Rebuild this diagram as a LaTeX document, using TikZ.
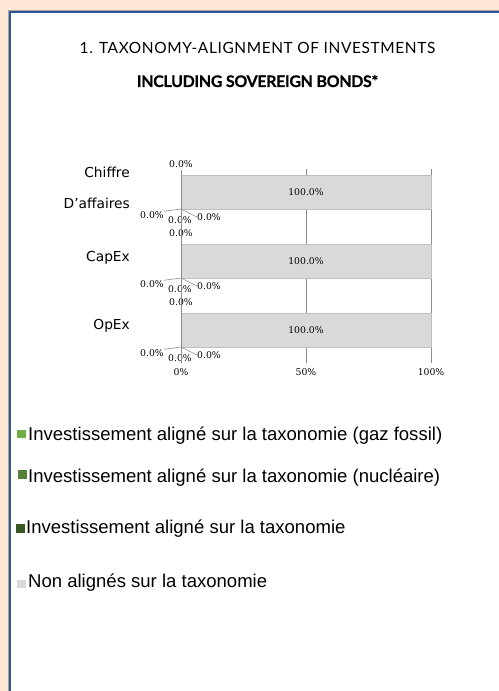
\documentclass[tikz,border=0pt]{standalone}
\usepackage{fontspec}
\setmainfont{Liberation Sans}
\newfontfamily\latofont{Lato}
\newfontfamily\catfont{DejaVu Sans}
\newfontfamily\valfont{DejaVu Serif}
\definecolor{peach}{HTML}{FFE6D5}
\definecolor{frameblue}{HTML}{2F5597}
\definecolor{barfill}{HTML}{D9D9D9}
\definecolor{barline}{HTML}{BFBFBF}
\definecolor{gridc}{HTML}{8C8C8C}
\definecolor{gazgreen}{HTML}{70AD47}
\definecolor{nucgreen}{HTML}{548235}
\definecolor{taxgreen}{HTML}{385723}
\tikzset{
  val/.style={font=\valfont\fontsize{9.3}{10}\selectfont, inner sep=0pt},
  cat/.style={font=\catfont\fontsize{13.8}{16}\selectfont, anchor=base east, inner sep=0pt},
  bar/.style={fill=barfill, draw=barline, line width=0.8bp},
  gridline/.style={draw=gridc, line width=1bp},
  leader/.style={draw=gridc, line width=0.6bp},
  legtext/.style={font=\fontsize{18.6}{21}\selectfont, anchor=base west, inner sep=0pt},
  legbox/.style={minimum size=8.5bp, inner sep=0pt},
}
\begin{document}
\begin{tikzpicture}[x=1bp,y=-1bp]
	\useasboundingbox (0,0) rectangle (499,691);
	\fill[peach] (0,0) rectangle (499,691);
	\fill[white] (10,12) rectangle (499,691);
	\draw[gray!70, line width=1bp] (8.5,691) |- (499,10.5);
	\draw[frameblue, line width=2bp] (10,691) |- (499,12);
	% heading
	\node[font=\latofont\addfontfeature{LetterSpace=4}\fontsize{15.5}{17}\selectfont, anchor=base, inner sep=0pt] (title) at (257.5,54) {1. TAXONOMY-ALIGNMENT OF INVESTMENTS};
	\node[font=\latofont\bfseries\addfontfeature{LetterSpace=-2,FakeBold=0.6}\fontsize{16}{18}\selectfont, anchor=base, inner sep=0pt] (subtitle) at (257.5,87) {INCLUDING SOVEREIGN BONDS*};
	% grid and bars
	\draw[gridline] (306,169) -- (306,363);
	\draw[gridline] (431,169) -- (431,363);
	\foreach \n/\t in {ca/175, capex/244, opex/313}{
		\draw[bar] (181,\t) rectangle (431,\t+34);
		\node[val] (\n-top) at (181,\t-10.5) {0.0\%};
		\node[val] (\n-mid) at (306,\t+17) {100.0\%};
		\coordinate (\n-foot) at (181,\t+34);
		\node[val] (\n-left) at (152,\t+40) {0.0\%};
		\node[val] (\n-right) at (209,\t+42) {0.0\%};
		\node[val] (\n-low) at (180,\t+45) {0.0\%};
		\draw[leader] (\n-foot) -- (\n-left.north east);
		\draw[leader] (\n-foot) -- (\n-right.west);
	}
	\draw[gridline] (181,170) -- (181,363);
	\node[val] (x0) at (181,372) {0\%};
	\node[val] (x50) at (306,372) {50\%};
	\node[val] (x100) at (431,372) {100\%};
	% categories
	\node[cat] (chiffre) at (130,177) {Chiffre};
	\node[cat] (daffaires) at (130,208) {D’affaires};
	\node[cat] (capex) at (130,261) {CapEx};
	\node[cat] (opex) at (130,329) {OpEx};
	% legend
	\node[legbox, fill=gazgreen] (k1) at (21.5,434) {};
	\node[legtext] (l1) at (28,440) {Investissement aligné sur la taxonomie (gaz fossil)};
	\node[legbox, fill=nucgreen] (k2) at (22.5,474.5) {};
	\node[legtext] (l2) at (28,482.5) {Investissement aligné sur la taxonomie (nucléaire)};
	\node[legbox, fill=taxgreen] (k3) at (20.5,528.5) {};
	\node[legtext] (l3) at (26,533) {Investissement aligné sur la taxonomie};
	\node[legbox, fill=barfill] (k4) at (21.5,584) {};
	\node[legtext] (l4) at (28,587.5) {Non alignés sur la taxonomie};
\end{tikzpicture}
\end{document}
